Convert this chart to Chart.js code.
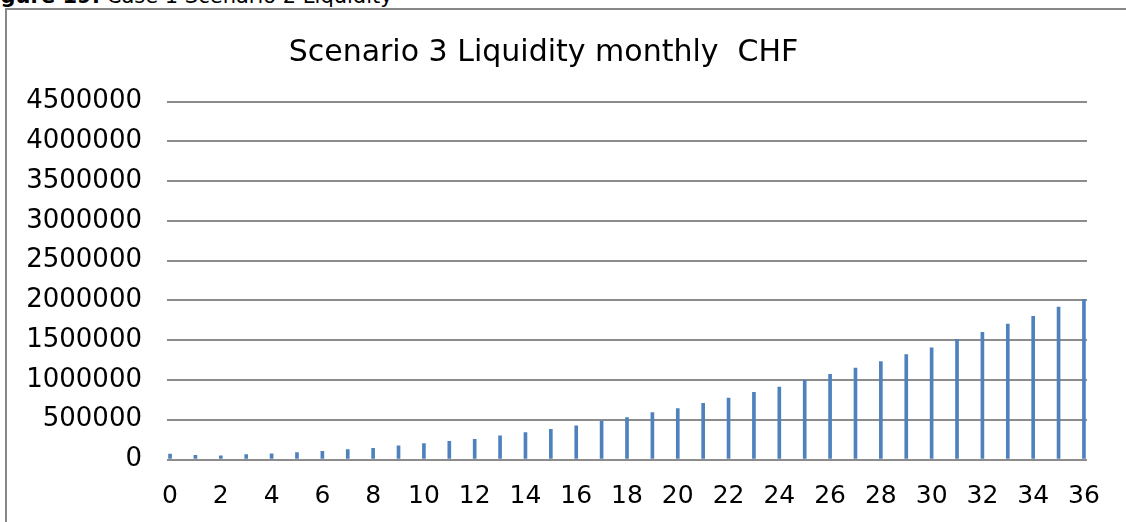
<!DOCTYPE html>
<html>
<head>
<meta charset="utf-8">
<title>Scenario 3 Liquidity monthly CHF</title>
<script src="https://cdn.jsdelivr.net/npm/chart.js@4/dist/chart.umd.min.js"></script>
<style>
  html, body { margin: 0; padding: 0; background: #fff; }
  body { width: 1126px; height: 522px; overflow: hidden; position: relative; }
  #caption {
    position: absolute; left: -21px; top: -14px;
    font-family: "DejaVu Sans", Verdana, sans-serif; font-size: 21px; line-height: 21px;
    color: #000; white-space: nowrap;
  }
  #frame {
    position: absolute; left: 5px; top: 8px; right: -4px; bottom: -4px;
    border-top: 2px solid #878787; border-left: 2px solid #878787;
    pointer-events: none;
  }
  #chart { position: absolute; left: 0; top: 0; }
</style>
</head>
<body>
<div id="caption"><b>Figure 19:</b> Case 1 Scenario 2 Liquidity</div>
<div id="frame"></div>
<canvas id="chart" width="1126" height="522"></canvas>
<script>
// Month index (0 = start) and liquidity balance in CHF
const months = [0,1,2,3,4,5,6,7,8,9,10,11,12,13,14,15,16,17,18,19,20,21,22,23,24,25,26,27,28,29,30,31,32,33,34,35,36];
const liquidity = [67000, 54000, 45000, 63000, 70000, 88000, 104000, 126000, 142000, 171000,
                   201000, 230000, 255000, 297000, 339000, 381000, 423000, 482000, 528000, 591000,
                   641000, 708000, 771000, 846000, 910000, 1000000, 1071000, 1150000, 1233000, 1321000,
                   1404000, 1512000, 1600000, 1704000, 1800000, 1917000, 2016000];
const xTicks = [0,2,4,6,8,10,12,14,16,18,20,22,24,26,28,30,32,34,36];
const yTicks = [0,500000,1000000,1500000,2000000,2500000,3000000,3500000,4000000,4500000];
const chartTitle = 'Scenario 3 Liquidity monthly  CHF';

const FONT = '"DejaVu Sans", Verdana, sans-serif';

new Chart(document.getElementById('chart'), {
  type: 'bar',
  data: {
    datasets: [{
      data: months.map((m, i) => ({ x: m, y: liquidity[i] })),
      backgroundColor: '#4f81bd',
      borderWidth: 0,
      barThickness: 3
    }]
  },
  options: {
    responsive: false,
    animation: false,
    devicePixelRatio: 1,
    layout: { padding: { left: 0, right: 39, top: 0, bottom: 0 } },
    plugins: {
      legend: { display: false },
      tooltip: { enabled: false },
      title: {
        display: true,
        text: chartTitle,
        color: '#000',
        font: { family: FONT, size: 30, weight: 'normal', lineHeight: 1.2 },
        padding: { top: 35, bottom: 30.7 }
      }
    },
    scales: {
      x: {
        type: 'linear',
        offset: false,
        min: -0.12,
        max: 36.12,
        afterBuildTicks: s => { s.ticks = xTicks.map(v => ({ value: v })); },
        afterFit: s => { s.height = 62.5; },
        grid: { display: false, drawTicks: false, offset: false },
        border: { display: false },
        ticks: {
          color: '#000',
          font: { family: FONT, size: 25 },
          padding: 22,
          maxRotation: 0,
          autoSkip: false,
          callback: v => String(v)
        }
      },
      y: {
        min: 0,
        max: 4500000,
        afterBuildTicks: s => { s.ticks = yTicks.map(v => ({ value: v })); },
        afterFit: s => { s.width = 167; },
        grid: { color: '#8c8c8c', lineWidth: 2, drawTicks: false },
        border: { display: false },
        ticks: {
          color: '#000',
          font: { family: FONT, size: 26 },
          padding: 25,
          callback: v => String(v)
        }
      }
    }
  }
});
</script>
</body>
</html>
